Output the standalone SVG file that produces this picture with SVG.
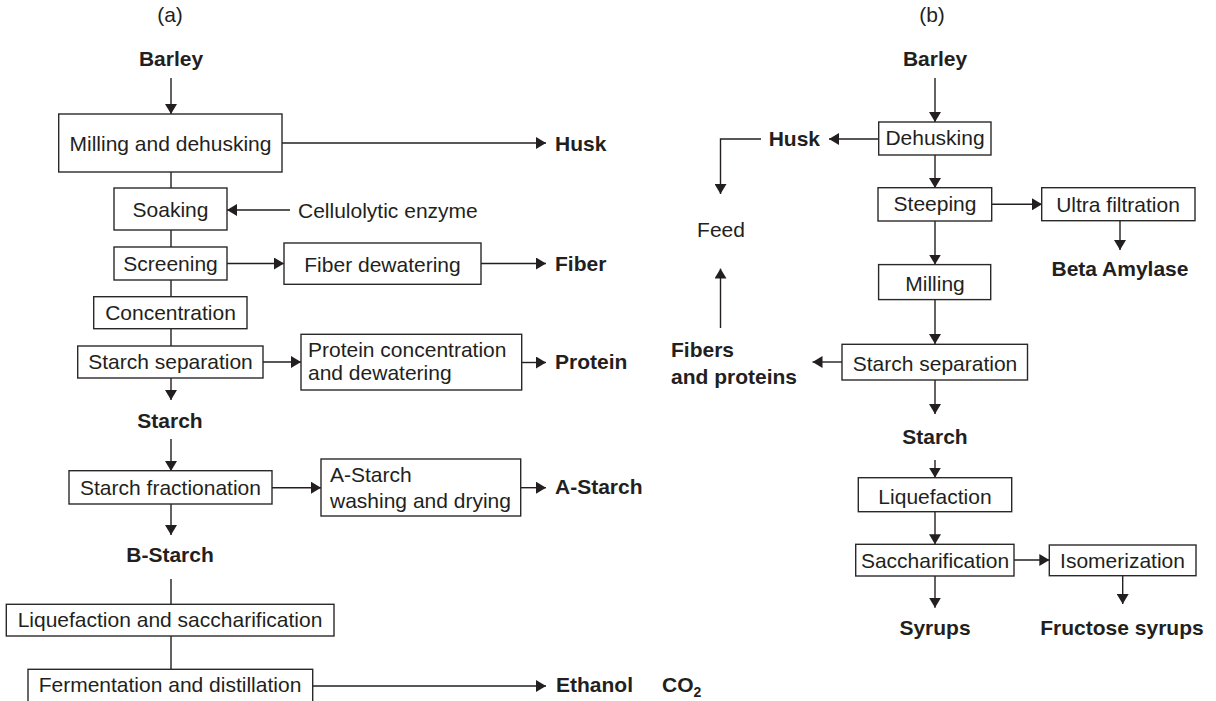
<svg xmlns="http://www.w3.org/2000/svg" width="1216" height="701" viewBox="0 0 1216 701">
  <style>
    .bg { fill: #ffffff; }
    .box { fill: #ffffff; stroke: #2b2828; stroke-width: 1.4; }
    .t { font-family: "Liberation Sans", Arial, sans-serif; font-size: 21px; fill: #231f20; }
    .c { text-anchor: middle; }
    .e { text-anchor: end; }
    .b { font-weight: bold; }
    .link { fill: none; stroke: #231f20; stroke-width: 1.4; }
    .arrow { marker-end: url(#head); }
  </style>
  <defs>
    <marker id="head" viewBox="0 0 10 12" refX="10" refY="6" markerWidth="10" markerHeight="12" markerUnits="userSpaceOnUse" orient="auto">
      <path d="M0,0 L10,6 L0,12 z" fill="#231f20"/>
    </marker>
  </defs>
  <rect class="bg" x="0" y="0" width="1216" height="701"/>

  <!-- connectors -->
  <g id="connectors">
    <!-- (a) -->
    <path class="link arrow" d="M171,78 V114"/>
    <path class="link arrow" d="M282,143 H546"/>
    <path class="link" d="M171,172 V188"/>
    <path class="link arrow" d="M290,210 H227"/>
    <path class="link" d="M171,230 V247"/>
    <path class="link arrow" d="M227,263.5 H284"/>
    <path class="link arrow" d="M481,263.5 H546"/>
    <path class="link" d="M171,280 V297"/>
    <path class="link" d="M171,329 V346"/>
    <path class="link arrow" d="M263,362 H301"/>
    <path class="link arrow" d="M522,362.5 H546"/>
    <path class="link arrow" d="M171,378 V400"/>
    <path class="link arrow" d="M171,439 V471"/>
    <path class="link arrow" d="M272,487.7 H321"/>
    <path class="link arrow" d="M521,487.7 H546"/>
    <path class="link arrow" d="M171,504 V535"/>
    <path class="link" d="M171,579 V604"/>
    <path class="link" d="M171,636 V669"/>
    <path class="link arrow" d="M313,686 H546"/>
    <!-- (b) -->
    <path class="link arrow" d="M935,78 V122"/>
    <path class="link arrow" d="M879,139 H829"/>
    <path class="link arrow" d="M761,139 H720.5 V194"/>
    <path class="link arrow" d="M935,155 V188"/>
    <path class="link arrow" d="M992,204.3 H1042"/>
    <path class="link arrow" d="M1120,221 V250"/>
    <path class="link arrow" d="M935,221 V264.6"/>
    <path class="link arrow" d="M720.5,328 V268.6"/>
    <path class="link arrow" d="M935,300 V344"/>
    <path class="link arrow" d="M842,362 H812.5"/>
    <path class="link arrow" d="M935,380 V414"/>
    <path class="link arrow" d="M935,460 V477.7"/>
    <path class="link arrow" d="M935,511.7 V544.3"/>
    <path class="link arrow" d="M1014,560 H1049.3"/>
    <path class="link arrow" d="M935,576 V607.7"/>
    <path class="link arrow" d="M1122.7,575.7 V604"/>
  </g>

  <!-- panel (a) -->
  <text class="t c" x="170" y="22">(a)</text>
  <g id="a-barley"><text class="t c b" x="171" y="66">Barley</text></g>
  <g id="a-milling">
    <rect class="box" x="58.7" y="114" width="223.3" height="58"/>
    <text class="t c" x="170.5" y="151">Milling and dehusking</text>
  </g>
  <g id="a-husk"><text class="t b" x="555" y="151">Husk</text></g>
  <g id="a-soaking">
    <rect class="box" x="114" y="188" width="113" height="42"/>
    <text class="t c" x="170.5" y="217">Soaking</text>
  </g>
  <g id="a-enzyme"><text class="t" x="298" y="218">Cellulolytic enzyme</text></g>
  <g id="a-screening">
    <rect class="box" x="114" y="247" width="113" height="33"/>
    <text class="t c" x="170.5" y="271">Screening</text>
  </g>
  <g id="a-fiber-dewatering">
    <rect class="box" x="284" y="243" width="197" height="41.3"/>
    <text class="t c" x="382.5" y="271.5">Fiber dewatering</text>
  </g>
  <g id="a-fiber"><text class="t b" x="555" y="271">Fiber</text></g>
  <g id="a-concentration">
    <rect class="box" x="93.7" y="296.7" width="153.3" height="32"/>
    <text class="t c" x="170.5" y="319.5">Concentration</text>
  </g>
  <g id="a-starch-separation">
    <rect class="box" x="77.7" y="346" width="185.3" height="32"/>
    <text class="t c" x="170.5" y="369">Starch separation</text>
  </g>
  <g id="a-protein-concentration">
    <rect class="box" x="301" y="334.3" width="220.7" height="55.7"/>
    <text class="t" x="308" y="357">Protein concentration</text>
    <text class="t" x="308" y="380">and dewatering</text>
  </g>
  <g id="a-protein"><text class="t b" x="555" y="369">Protein</text></g>
  <g id="a-starch"><text class="t c b" x="170" y="428">Starch</text></g>
  <g id="a-fractionation">
    <rect class="box" x="69" y="470.7" width="203" height="33.3"/>
    <text class="t c" x="170.5" y="494.5">Starch fractionation</text>
  </g>
  <g id="a-astarch-washing">
    <rect class="box" x="321" y="459" width="199.7" height="57"/>
    <text class="t" x="330" y="481.5">A-Starch</text>
    <text class="t" x="330" y="508">washing and drying</text>
  </g>
  <g id="a-astarch"><text class="t b" x="555" y="494">A-Starch</text></g>
  <g id="a-bstarch"><text class="t c b" x="170" y="562">B-Starch</text></g>
  <g id="a-liquefaction">
    <rect class="box" x="6.3" y="604.3" width="327.7" height="31.7"/>
    <text class="t c" x="170" y="627">Liquefaction and saccharification</text>
  </g>
  <g id="a-fermentation">
    <rect class="box" x="28" y="669.3" width="284.7" height="45"/>
    <text class="t c" x="170" y="692">Fermentation and distillation</text>
  </g>
  <g id="a-ethanol"><text class="t b" x="556" y="692">Ethanol</text></g>
  <g id="a-co2"><text class="t b" x="662" y="692">CO<tspan font-size="14" dy="5">2</tspan></text></g>

  <!-- panel (b) -->
  <text class="t c" x="932" y="22">(b)</text>
  <g id="b-barley"><text class="t c b" x="935" y="66">Barley</text></g>
  <g id="b-dehusking">
    <rect class="box" x="878.7" y="122" width="112.3" height="33"/>
    <text class="t c" x="935" y="145">Dehusking</text>
  </g>
  <g id="b-husk"><text class="t e b" x="820" y="145.5">Husk</text></g>
  <g id="b-feed"><text class="t c" x="721" y="237">Feed</text></g>
  <g id="b-steeping">
    <rect class="box" x="878" y="187.7" width="113.7" height="33.3"/>
    <text class="t c" x="935" y="210.5">Steeping</text>
  </g>
  <g id="b-ultrafiltration">
    <rect class="box" x="1041.7" y="187.7" width="153.3" height="33"/>
    <text class="t c" x="1118" y="211.5">Ultra filtration</text>
  </g>
  <g id="b-beta-amylase"><text class="t c b" x="1120" y="276">Beta Amylase</text></g>
  <g id="b-milling">
    <rect class="box" x="878.6" y="264.6" width="112.1" height="35"/>
    <text class="t c" x="935" y="291">Milling</text>
  </g>
  <g id="b-fibers">
    <text class="t b" x="671" y="357">Fibers</text>
    <text class="t b" x="671" y="384">and proteins</text>
  </g>
  <g id="b-starch-separation">
    <rect class="box" x="842" y="344.3" width="185.5" height="35.7"/>
    <text class="t c" x="935" y="370.5">Starch separation</text>
  </g>
  <g id="b-starch"><text class="t c b" x="935" y="443.5">Starch</text></g>
  <g id="b-liquefaction">
    <rect class="box" x="858.3" y="477.7" width="153.4" height="34"/>
    <text class="t c" x="935" y="503.5">Liquefaction</text>
  </g>
  <g id="b-saccharification">
    <rect class="box" x="855.7" y="544.3" width="158.3" height="31.7"/>
    <text class="t c" x="935" y="568">Saccharification</text>
  </g>
  <g id="b-isomerization">
    <rect class="box" x="1049.3" y="545" width="146.7" height="30.7"/>
    <text class="t c" x="1122.5" y="568">Isomerization</text>
  </g>
  <g id="b-syrups"><text class="t c b" x="935" y="635">Syrups</text></g>
  <g id="b-fructose"><text class="t c b" x="1122" y="635">Fructose syrups</text></g>
</svg>
